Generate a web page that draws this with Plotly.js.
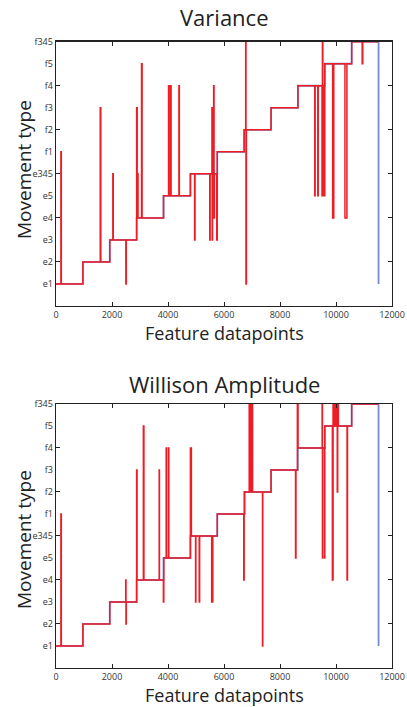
<!DOCTYPE html>
<html>
<head>
<meta charset="utf-8">
<script src="https://cdn.plot.ly/plotly-3.0.1.min.js"></script>
<style>html,body{margin:0;padding:0;background:#fff;}#chart{width:407px;height:707px;}</style>
</head>
<body>
<div id="chart"></div>
<script>
// Movement type categories (bottom to top)
const categories = ['e1','e2','e3','e4','e5','e345','f1','f2','f3','f4','f5','f345'];
const xTicks = [0, 2000, 4000, 6000, 8000, 10000, 12000];

// True movement type (step boundaries)
const trueX = [0, 960, 1920, 2880, 3840, 4800, 5760, 6720, 7680, 8640, 9600, 10560, 11520, 11520];
const trueY = ['e1','e2','e3','e4','e5','e345','f1','f2','f3','f4','f5','f345','f345','e1'];

// Variance classifier output (change points)
const varianceX = [0,175,190,960,1580,1600,1920,2030,2045,2495,2510,2880,2900,2915,2930,3055,3075,
  3840,4020,4035,4090,4110,4390,4405,4800,4950,4965,5490,5505,5570,5580,5590,5630,5645,5655,5740,5760,
  6720,6775,6785,6800,7680,8640,9240,9255,9350,9365,9500,9515,9530,9560,9575,9600,9880,9920,10320,10390,
  10560,10935,10955,11520];
const varianceY = ['e1','f1','e1','e2','f3','e2','e3','e345','e3','e1','e3','f3','e4','e345','e4','f5','e4',
  'e5','f4','e5','f4','e5','f4','e5','e345','e3','e345','e3','e345','f3','e3','e345','f4','e4','e345','e3','f1',
  'f2','f345','e1','f2','f3','f4','e5','f4','e5','f4','e5','f345','e5','f4','e5','f5','e4','f5','e4','f5',
  'f345','f5','f345','f345'];

// Willison Amplitude classifier output (change points)
const willisonX = [0,175,190,960,1920,2490,2500,2510,2880,2895,3120,3140,3685,3695,3835,3850,3935,3950,4020,4030,
  4800,4835,4985,4995,5115,5130,5560,5600,5760,6705,6720,6740,6900,6950,6985,7020,7375,7385,7680,8555,8570,
  8620,8645,9505,9515,9525,9590,9600,9870,9895,9920,9935,9960,9975,10000,10015,10045,10060,10085,10395,10410,
  10560,11520];
const willisonY = ['e1','f1','e1','e2','e3','e4','e2','e3','f3','e4','f5','e4','f3','e4','e3','e5','f4','e5','f4','e5',
  'f4','e345','e3','e345','e3','e345','e3','e345','f1','e4','f1','f2','f345','f2','f345','f2','e1','f2','f3','e5','f3',
  'f345','f4','f345','e5','f4','e5','f5','e4','f345','f5','f345','f5','f345','f5','f345','f2','f345','f5','e4','f5',
  'f345','f345'];

const toIdx = arr => arr.map(v => categories.indexOf(v) + 1);
const markIdx = [2, 4, 6, 8, 10, 12];
const labelIdx = categories.map((c, i) => i + 1);

const RED = '#ee1c24', BLUE = '#7a8ad0';
const FONT = 'Open Sans, Noto Sans, sans-serif';

function line(x, y, color, width, xa, ya) {
  return {x: x, y: toIdx(y), type: 'scatter', mode: 'lines', line: {color: color, width: width, shape: 'hv'},
    xaxis: xa, yaxis: ya, hoverinfo: 'skip', showlegend: false};
}
function dummy(xa, ya) {
  return {x: [null], y: [null], type: 'scatter', mode: 'lines', xaxis: xa, yaxis: ya, hoverinfo: 'skip', showlegend: false};
}

const data = [
  line(trueX, trueY, BLUE, 1.8, 'x', 'y'),
  line(varianceX, varianceY, RED, 1.5, 'x', 'y'),
  line(trueX, trueY, BLUE, 1.8, 'x2', 'y2'),
  line(willisonX, willisonY, RED, 1.5, 'x2', 'y2'),
  dummy('x', 'y3'),
  dummy('x2', 'y4')
];

const xBase = {range: [0, 12000], tickvals: xTicks, ticktext: xTicks.map(String), ticks: 'inside', ticklen: 4, tickcolor: '#222', mirror: 'ticks',
  showline: true, linecolor: '#222', linewidth: 1.3, showgrid: false, zeroline: false, exponentformat: 'none',
  tickfont: {family: FONT, size: 9, color: '#333'}};
const yBase = {range: [0, 12], tickvals: labelIdx, ticktext: categories, ticks: '', mirror: true,
  showline: true, linecolor: '#222', linewidth: 1.3, showgrid: false, zeroline: false,
  tickfont: {family: FONT, size: 9, color: '#333'}};
const yMarks = {range: [0, 12], tickvals: markIdx, ticks: 'inside', ticklen: 4, tickcolor: '#222', mirror: 'ticks',
  showline: false, showgrid: false, zeroline: false, showticklabels: false, side: 'left'};

const top1 = 0.941, bot1 = 0.5672, top2 = 0.4286, bot2 = 0.0552;

const layout = {
  width: 407, height: 707,
  margin: {l: 56, r: 15, t: 0, b: 0},
  paper_bgcolor: '#fff', plot_bgcolor: '#fff',
  xaxis: Object.assign({}, xBase, {anchor: 'y', domain: [0, 1]}),
  yaxis: Object.assign({}, yBase, {anchor: 'x', domain: [bot1, top1]}),
  yaxis3: Object.assign({}, yMarks, {overlaying: 'y', anchor: 'x'}),
  xaxis2: Object.assign({}, xBase, {anchor: 'y2', domain: [0, 1]}),
  yaxis2: Object.assign({}, yBase, {anchor: 'x2', domain: [bot2, top2]}),
  yaxis4: Object.assign({}, yMarks, {overlaying: 'y2', anchor: 'x2'}),
  annotations: [
    {text: 'Variance', xref: 'paper', yref: 'paper', x: 0.5, y: 1 - 17 / 707, xanchor: 'center', yanchor: 'middle',
      showarrow: false, font: {family: FONT, size: 22, color: '#222'}},
    {text: 'Willison Amplitude', xref: 'paper', yref: 'paper', x: 0.5, y: 1 - 384 / 707, xanchor: 'center', yanchor: 'middle',
      showarrow: false, font: {family: FONT, size: 22, color: '#222'}},
    {text: 'Feature datapoints', xref: 'paper', yref: 'paper', x: 0.5, y: 1 - 333 / 707, xanchor: 'center', yanchor: 'middle',
      showarrow: false, font: {family: FONT, size: 18, color: '#222'}},
    {text: 'Feature datapoints', xref: 'paper', yref: 'paper', x: 0.5, y: 1 - 695 / 707, xanchor: 'center', yanchor: 'middle',
      showarrow: false, font: {family: FONT, size: 18, color: '#222'}},
    {text: 'Movement type', xref: 'paper', yref: 'paper', x: (24 - 56) / 336, y: 1 - 170 / 707, xanchor: 'center', yanchor: 'middle',
      textangle: -90, showarrow: false, font: {family: FONT, size: 19, color: '#222'}},
    {text: 'Movement type', xref: 'paper', yref: 'paper', x: (24 - 56) / 336, y: 1 - 540 / 707, xanchor: 'center', yanchor: 'middle',
      textangle: -90, showarrow: false, font: {family: FONT, size: 19, color: '#222'}}
  ]
};

Plotly.newPlot('chart', data, layout, {displayModeBar: false, staticPlot: true});
</script>
</body>
</html>
